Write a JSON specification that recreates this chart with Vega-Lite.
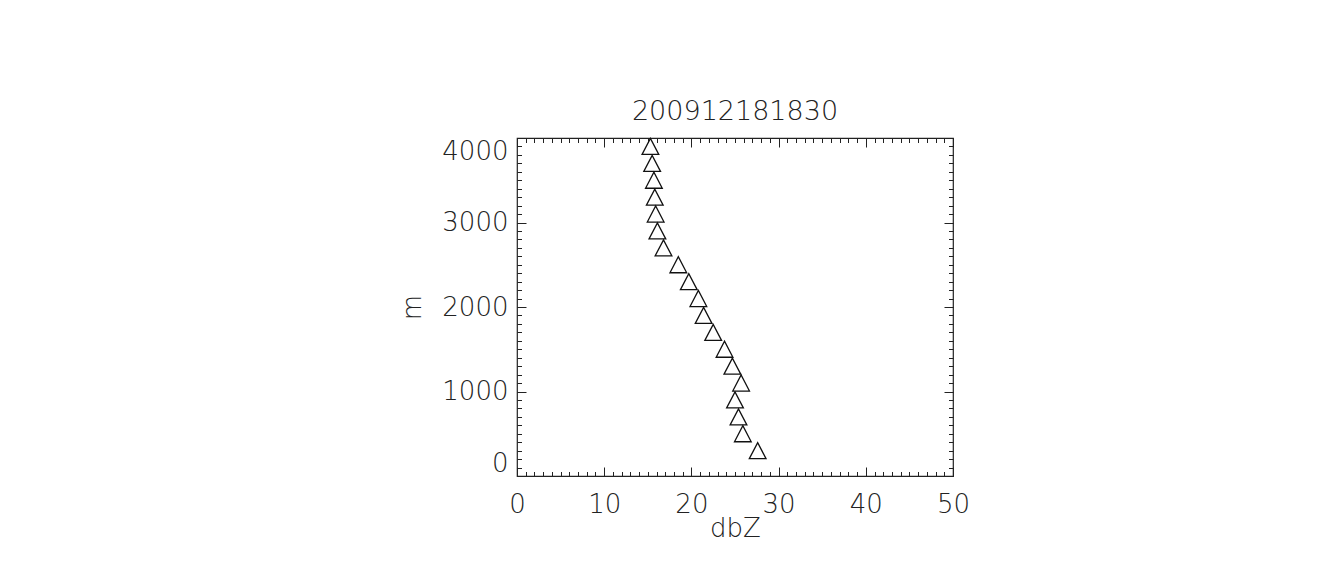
{
  "$schema": "https://vega.github.io/schema/vega-lite/v6.json",
  "width": 436,
  "height": 338,
  "autosize": {"type": "none"},
  "padding": {"left": 517, "top": 138, "right": 384, "bottom": 94},
  "background": "white",
  "title": {"text": "200912181830", "fontSize": 27, "fontWeight": 200, "font": "DejaVu Sans", "color": "#222", "offset": 10, "anchor": "middle"},
  "config": {
    "view": {"stroke": "#222", "strokeWidth": 1.2},
    "font": "DejaVu Sans",
    "axis": {"grid": false, "domain": false, "tickColor": "#222", "tickWidth": 1, "labelColor": "#222", "titleColor": "#222", "labelFont": "DejaVu Sans", "titleFont": "DejaVu Sans", "labelFontWeight": 200, "titleFontWeight": 200}
  },
  "data": {"values": [
    {"height": 3900, "dbz": 15.3},
    {"height": 3700, "dbz": 15.5},
    {"height": 3500, "dbz": 15.7},
    {"height": 3300, "dbz": 15.8},
    {"height": 3100, "dbz": 15.9},
    {"height": 2900, "dbz": 16.1},
    {"height": 2700, "dbz": 16.8},
    {"height": 2500, "dbz": 18.5},
    {"height": 2300, "dbz": 19.7},
    {"height": 2100, "dbz": 20.8},
    {"height": 1900, "dbz": 21.4},
    {"height": 1700, "dbz": 22.5},
    {"height": 1500, "dbz": 23.8},
    {"height": 1300, "dbz": 24.7},
    {"height": 1100, "dbz": 25.7},
    {"height": 900, "dbz": 25.0},
    {"height": 700, "dbz": 25.4},
    {"height": 500, "dbz": 25.9},
    {"height": 300, "dbz": 27.6}
  ]},
  "layer": [
    {
      "mark": {"type": "point", "shape": "M-1,0.96L1,0.96L0,-0.96Z", "filled": false, "stroke": "#111", "strokeWidth": 1.3, "size": 279, "opacity": 1},
      "encoding": {
        "x": {"field": "dbz", "type": "quantitative", "scale": {"domain": [0, 50], "nice": false, "zero": false},
          "axis": {"orient": "bottom", "values": [0, 10, 20, 30, 40, 50], "tickSize": -9, "labelFontSize": 26, "labelPadding": 24, "labelFlush": false, "title": "dbZ", "titleFontSize": 26, "titlePadding": -2, "format": "d"}},
        "y": {"field": "height", "type": "quantitative", "scale": {"domain": [0, 4000], "nice": false, "zero": false},
          "axis": {"orient": "left", "values": [0, 1000, 2000, 3000, 4000], "tickSize": -9, "labelFontSize": 26, "labelPadding": 18, "labelFlush": true, "title": "m", "titleFontSize": 26, "titlePadding": 16, "format": "d"}}
      }
    },
    {
      "mark": {"type": "point", "opacity": 0},
      "encoding": {
        "x": {"field": "dbz", "type": "quantitative",
          "axis": {"orient": "bottom", "values": [0,1,2,3,4,5,6,7,8,9,10,11,12,13,14,15,16,17,18,19,20,21,22,23,24,25,26,27,28,29,30,31,32,33,34,35,36,37,38,39,40,41,42,43,44,45,46,47,48,49,50], "tickSize": -4.5, "labels": false, "title": null}},
        "y": {"field": "height", "type": "quantitative",
          "axis": {"orient": "left", "values": [0,100,200,300,400,500,600,700,800,900,1000,1100,1200,1300,1400,1500,1600,1700,1800,1900,2000,2100,2200,2300,2400,2500,2600,2700,2800,2900,3000,3100,3200,3300,3400,3500,3600,3700,3800,3900,4000], "tickSize": -4.5, "labels": false, "title": null}}
      }
    },
    {
      "mark": {"type": "point", "opacity": 0},
      "encoding": {
        "x": {"field": "dbz", "type": "quantitative",
          "axis": {"orient": "top", "values": [0, 10, 20, 30, 40, 50], "tickSize": -9, "labels": false, "title": null}},
        "y": {"field": "height", "type": "quantitative",
          "axis": {"orient": "right", "values": [0, 1000, 2000, 3000, 4000], "tickSize": -9, "labels": false, "title": null}}
      }
    },
    {
      "mark": {"type": "point", "opacity": 0},
      "encoding": {
        "x": {"field": "dbz", "type": "quantitative",
          "axis": {"orient": "top", "values": [0,1,2,3,4,5,6,7,8,9,10,11,12,13,14,15,16,17,18,19,20,21,22,23,24,25,26,27,28,29,30,31,32,33,34,35,36,37,38,39,40,41,42,43,44,45,46,47,48,49,50], "tickSize": -4.5, "labels": false, "title": null}},
        "y": {"field": "height", "type": "quantitative",
          "axis": {"orient": "right", "values": [0,100,200,300,400,500,600,700,800,900,1000,1100,1200,1300,1400,1500,1600,1700,1800,1900,2000,2100,2200,2300,2400,2500,2600,2700,2800,2900,3000,3100,3200,3300,3400,3500,3600,3700,3800,3900,4000], "tickSize": -4.5, "labels": false, "title": null}}
      }
    }
  ],
  "resolve": {"axis": {"x": "independent", "y": "independent"}}
}
